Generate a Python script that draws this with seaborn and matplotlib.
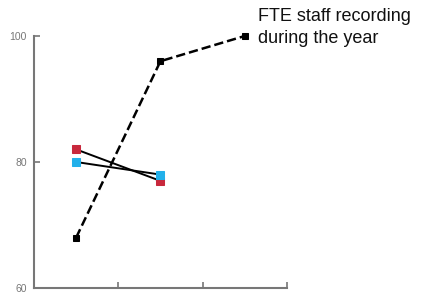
import pandas as pd
import matplotlib
matplotlib.use('Agg')
import matplotlib.pyplot as plt
import seaborn as sns

# values
x_pos = [0, 1, 2]
fte_staff = [68, 96, 100]
red_x = [0, 1]
red_vals = [82, 77]
blue_x = [0, 1]
blue_vals = [80, 78]
y_ticks = [60, 80, 100]
label_text = 'FTE staff recording\nduring the year'

sns.set_style('white')
plt.rcParams['font.family'] = ['Liberation Sans', 'DejaVu Sans']

fig = plt.figure(figsize=(4.25, 3), dpi=100)
ax = fig.add_axes([0.08, 0.04, 0.595, 0.84])

df_fte = pd.DataFrame({'x': x_pos, 'y': fte_staff})
df_red = pd.DataFrame({'x': red_x, 'y': red_vals})
df_blue = pd.DataFrame({'x': blue_x, 'y': blue_vals})

# dashed black series with square markers
sns.lineplot(data=df_fte, x='x', y='y', ax=ax, color='black', linestyle='--',
             linewidth=1.8, marker='s', markersize=5, markeredgecolor='black',
             markerfacecolor='black', clip_on=False)
# two short solid lines, coloured markers
sns.lineplot(data=df_red, x='x', y='y', ax=ax, color='black', linewidth=1.4,
             marker='s', markersize=5.5, markerfacecolor='#c8283c',
             markeredgecolor='#c8283c')
sns.lineplot(data=df_blue, x='x', y='y', ax=ax, color='black', linewidth=1.4,
             marker='s', markersize=5.5, markerfacecolor='#22b0ea',
             markeredgecolor='#22b0ea')

ax.set_xlim(-0.5, 2.5)
ax.set_ylim(60, 100)
ax.set_xticks([0.5, 1.5, 2.5])
ax.set_xticklabels([])
ax.set_yticks(y_ticks)
ax.set_xlabel('')
ax.set_ylabel('')
ax.tick_params(direction='in', length=4, width=1.2, color='#777777',
               labelcolor='#777777', labelsize=7.5, left=True, bottom=True, pad=5)
sns.despine(ax=ax)
for s in ['left', 'bottom']:
    ax.spines[s].set_color('#777777')
    ax.spines[s].set_linewidth(1.5)

fig.text(258 / 425, 1 - 8 / 300, label_text, fontsize=13, va='top',
         ha='left', color='#111111', linespacing=1.35)

fig.savefig('out.png', dpi=100)
